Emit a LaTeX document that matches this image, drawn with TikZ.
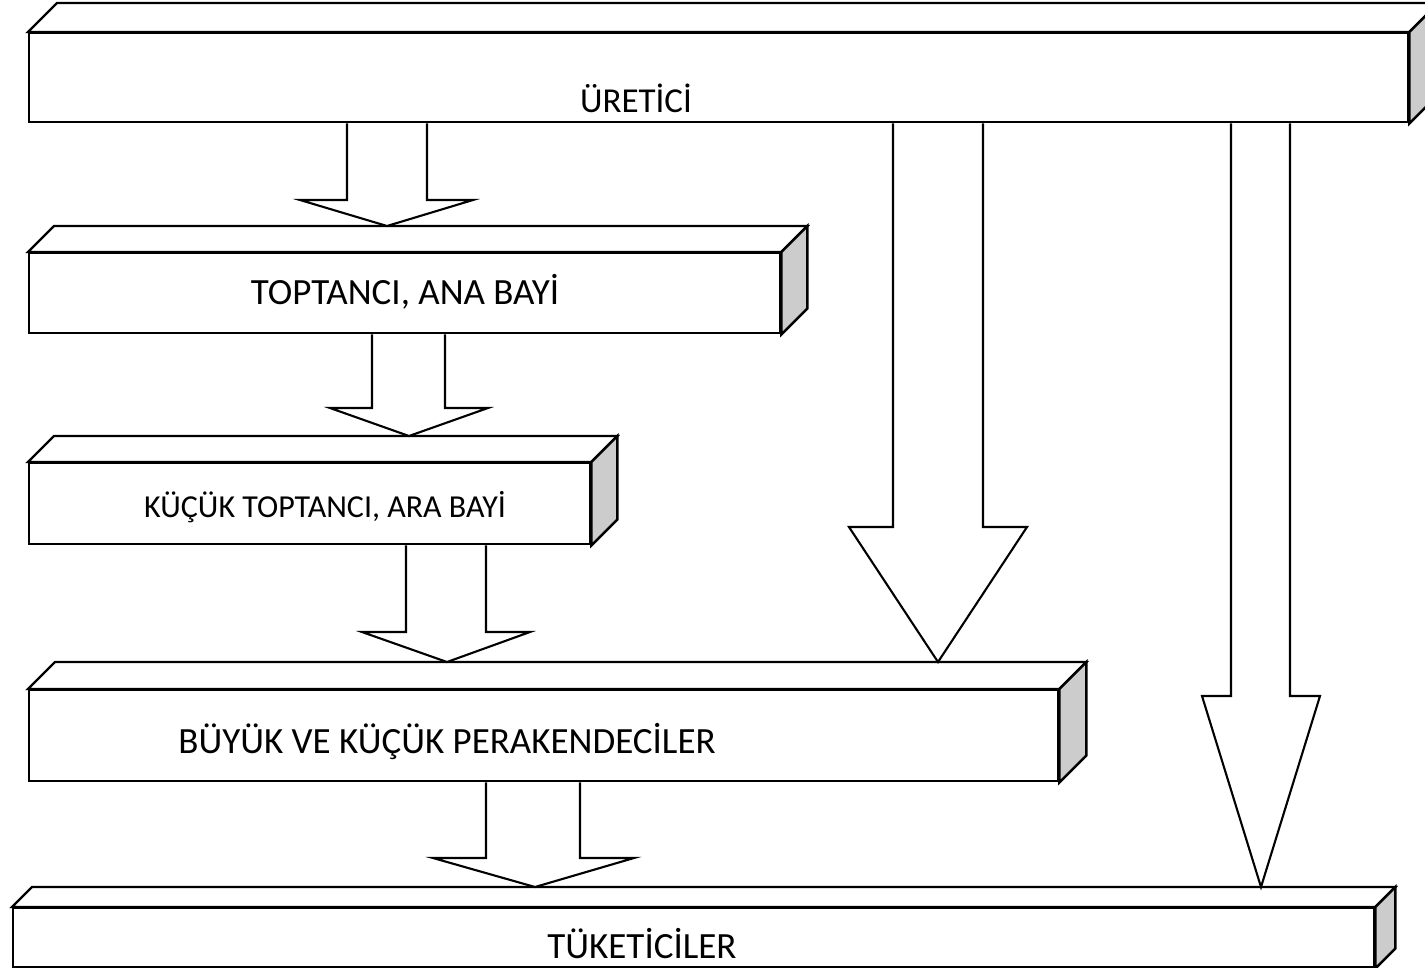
\documentclass[tikz,border=0pt]{standalone}
\usepackage{fontspec}
\setmainfont{Carlito}
\definecolor{sidegray}{HTML}{CCCCCC}
\tikzset{
  frontbox/.style={draw, line width=2.4pt, fill=white, inner sep=0pt, rectangle},
  facebox/.style={draw, line width=2.4pt, fill=white, line join=miter},
  arr/.style={draw, line width=2.1pt, fill=white, line join=miter},
  lbl/.style={font=\fontsize{37}{42}\selectfont, inner sep=0pt}
}
\newcommand\slab[6]{%
  \node[frontbox, minimum width={#4-#2}, minimum height={#5-#3}, anchor=north west] (#1) at (#2,#3) {};
  \draw[facebox] (#1.north west) -- ++(#6,-#6) -- ([shift={(#6,-#6)}]#1.north east) -- (#1.north east) -- cycle;
  \draw[facebox, fill=sidegray] (#1.north east) -- ++(#6,-#6) -- ([shift={(#6,-#6)}]#1.south east) -- (#1.south east) -- cycle;
  \coordinate (#1back) at ([shift={(#6,-#6)}]#1.north west);
}
% from, to, shaft left, shaft right, wing y, wing left, wing right, tip x
\newcommand\blockarrow[8]{%
  \draw[arr] (#3,0 |- #1.south) -- (#3,#5) -- (#6,#5) -- (#8,0 |- #2back) -- (#7,#5) -- (#4,#5) -- (#4,0 |- #1.south);
}
\begin{document}
\begin{tikzpicture}[x=1pt,y=-1pt]
\useasboundingbox (0,0) rectangle (1425,967);
\clip (0,0) rectangle (1425,967);
\slab{u}{28}{32}{1407}{121}{29}
\slab{t}{28}{252}{779}{332}{26}
\slab{k}{28}{462}{589}{543}{26}
\slab{b}{28}{689}{1057}{780}{27}
\slab{c}{12}{907}{1373}{966}{20}
\blockarrow{u}{t}{347}{427}{200}{300}{473}{387}
\blockarrow{t}{k}{372}{445}{408}{330}{488}{409}
\blockarrow{k}{b}{406}{486}{632}{362}{530}{447}
\blockarrow{b}{c}{486}{580}{858}{433}{634}{535}
\blockarrow{u}{b}{893}{983}{527}{849}{1027}{938}
\blockarrow{u}{c}{1231}{1290}{696}{1202}{1320}{1261}
\node[lbl, font=\fontsize{35}{40}\selectfont] (ul) at (636,98) {ÜRETİCİ};
\node[lbl] (tl) at (405,292) {TOPTANCI, ANA BAYİ};
\node[lbl, font=\fontsize{32}{37}\selectfont] (kl) at (325,507) {KÜÇÜK TOPTANCI, ARA BAYİ};
\node[lbl] (bl) at (447,742) {BÜYÜK VE KÜÇÜK PERAKENDECİLER};
\node[lbl] (cl) at (642,944) {TÜKETİCİLER};
\end{tikzpicture}
\end{document}
